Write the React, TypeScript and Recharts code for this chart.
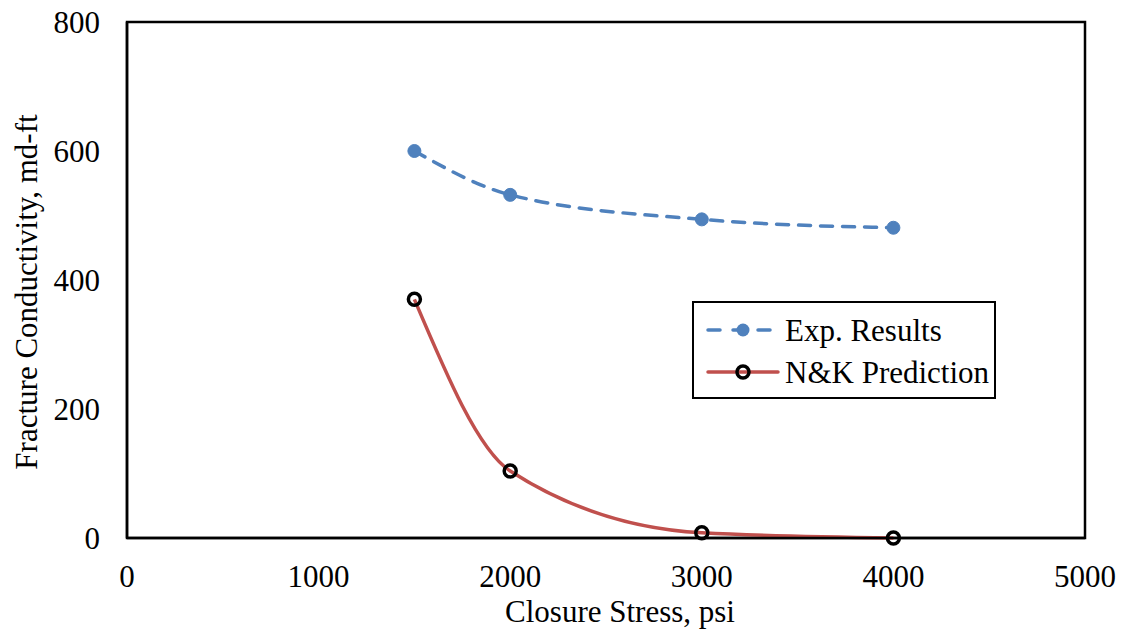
import { Label, Line, LineChart, ReferenceArea, XAxis, YAxis } from "recharts";

const stress = [1500, 2000, 3000, 4000];
const expResults = [600, 532, 494, 481];
const nkPrediction = [370, 104, 8, 0];
const xTicks = [0, 1000, 2000, 3000, 4000, 5000];
const yTicks = [0, 200, 400, 600, 800];

const BLUE = "#4F81BD";
const RED = "#C0504D";
const FONT = "'Liberation Serif', 'Times New Roman', serif";

const data = stress.map((s, i) => ({ stress: s, exp: expResults[i], nk: nkPrediction[i] }));

const ExpDot = (props: { cx?: number; cy?: number }) => {
  const { cx, cy } = props;
  if (cx == null || cy == null) return null;
  return <circle cx={cx} cy={cy} r={6.5} fill={BLUE} stroke={BLUE} strokeWidth={1} />;
};

const NkDot = (props: { cx?: number; cy?: number }) => {
  const { cx, cy } = props;
  if (cx == null || cy == null) return null;
  return <circle cx={cx} cy={cy} r={6} fill="none" stroke="#000" strokeWidth={3.5} />;
};

function ChartLegend() {
  const rows = [
    { label: "Exp. Results", color: BLUE, dashed: true, filled: true },
    { label: "N&K Prediction", color: RED, dashed: false, filled: false },
  ];
  return (
    <div
      style={{
        position: "absolute",
        left: 692,
        top: 301,
        border: "2.5px solid #000",
        background: "#fff",
        width: 304,
        height: 98,
        boxSizing: "border-box",
        paddingTop: 6,
        fontFamily: FONT,
        fontSize: 31,
        whiteSpace: "nowrap",
      }}
    >
      {rows.map((r) => (
        <div key={r.label} style={{ display: "flex", alignItems: "center", height: 42 }}>
          <svg width={78} height={20} style={{ marginLeft: 10, flex: "none" }}>
            <line
              x1={4}
              y1={10}
              x2={74}
              y2={10}
              stroke={r.color}
              strokeWidth={3.5}
              strokeDasharray={r.dashed ? "12 13" : undefined}
              strokeLinecap="round"
            />
            {r.filled ? (
              <circle cx={39} cy={10} r={6.5} fill={BLUE} />
            ) : (
              <circle cx={39} cy={10} r={6} fill="none" stroke="#000" strokeWidth={3.5} />
            )}
          </svg>
          <span style={{ marginLeft: 3, lineHeight: 1 }}>{r.label}</span>
        </div>
      ))}
    </div>
  );
}

export default function App() {
  return (
    <div style={{ position: "absolute", left: 0, top: 0, width: 1125, height: 629, background: "#fff" }}>
      <LineChart width={1125} height={629} data={data} margin={{ top: 22, right: 40, left: 0, bottom: 0 }}>
        <XAxis
          dataKey="stress"
          type="number"
          domain={[0, 5000]}
          ticks={xTicks}
          height={91}
          tickSize={0}
          tickMargin={27}
          axisLine={{ stroke: "#000", strokeWidth: 2.5 }}
          tick={{ fill: "#000", fontSize: 31, fontFamily: FONT }}
          interval={0}
        >
          <Label
            value="Closure Stress, psi"
            position="center"
            dx={14}
            dy={27}
            style={{ fill: "#000", fontSize: 31, fontFamily: FONT }}
          />
        </XAxis>
        <YAxis
          type="number"
          domain={[0, 800]}
          ticks={yTicks}
          width={127}
          tickSize={0}
          tickMargin={27}
          axisLine={{ stroke: "#000", strokeWidth: 2.5 }}
          tick={{ fill: "#000", fontSize: 31, fontFamily: FONT }}
          interval={0}
        >
          <Label
            value="Fracture Conductivity, md-ft"
            angle={-90}
            position="center"
            dx={-38}
            dy={12}
            style={{ fill: "#000", fontSize: 31, fontFamily: FONT, textAnchor: "middle" }}
          />
        </YAxis>
        <ReferenceArea x1={0} x2={5000} y1={0} y2={800} fill="none" stroke="#000" strokeWidth={2.5} ifOverflow="visible" />
        <Line
          type="monotone"
          dataKey="exp"
          stroke={BLUE}
          strokeWidth={3.5}
          strokeDasharray="12 10"
          strokeLinecap="round"
          dot={<ExpDot />}
          isAnimationActive={false}
        />
        <Line
          type="monotone"
          dataKey="nk"
          stroke={RED}
          strokeWidth={3.5}
          dot={<NkDot />}
          isAnimationActive={false}
        />
      </LineChart>
      <ChartLegend />
    </div>
  );
}
